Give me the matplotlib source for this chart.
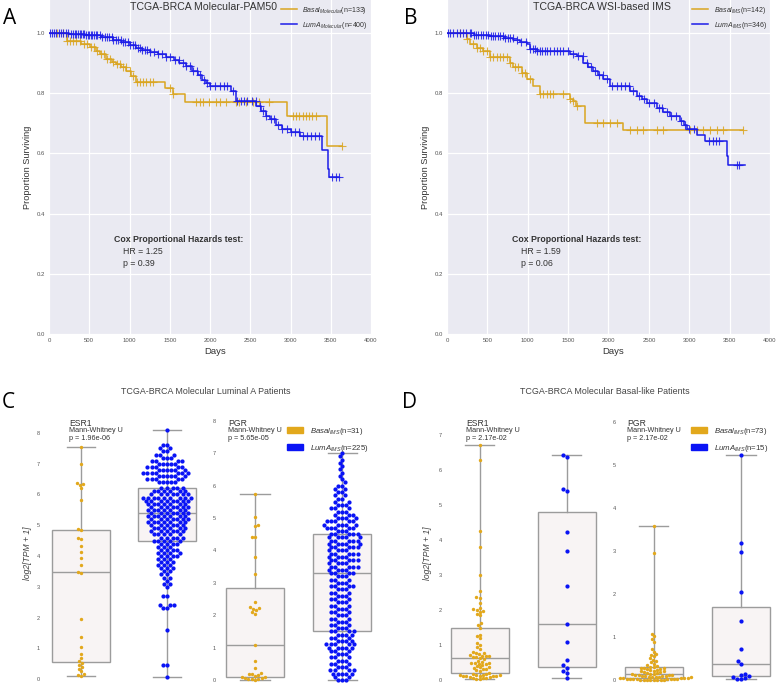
import numpy as np
import matplotlib
matplotlib.use('Agg')
import matplotlib.pyplot as plt
from matplotlib.patches import Patch

plt.rcParams['font.family'] = ['Liberation Sans', 'DejaVu Sans']
plt.rcParams['mathtext.fontset'] = 'custom'
plt.rcParams['mathtext.it'] = 'Liberation Sans:italic'
plt.rcParams['mathtext.rm'] = 'Liberation Sans'

W, H = 778, 684
GOLD = '#daa520'
BLUE = '#1c1ce8'
SW_GOLD = '#e2a81c'
SW_BLUE = '#0a14f5'
BOX_FACE = '#f8f4f4'
BOX_EDGE = '#9c9c9c'

# ---------------- Kaplan-Meier data ----------------
# panel A: molecular PAM50
a_basal_t = [0, 219, 400, 508, 580, 631, 714, 780, 838, 900, 962, 1020, 1085, 1436, 1537, 1684, 2959, 3453]
a_basal_s = [1.0, 0.975, 0.965, 0.953, 0.94, 0.93, 0.913, 0.905, 0.897, 0.886, 0.874, 0.858, 0.836,
             0.819, 0.797, 0.771, 0.724, 0.624]
a_basal_end = 3640
a_basal_cens = [95, 177, 220, 260, 300, 340, 384, 430, 470, 520, 560, 600, 640, 680, 720, 760, 800, 840,
                880, 920, 960, 1000, 1040, 1090, 1130, 1170, 1210, 1250, 1292, 1500, 1539, 1828, 1870, 1910,
                1993, 2070, 2130, 2200, 2320, 2365, 2450, 2530, 2612, 2736, 3025, 3065, 3107, 3150, 3190,
                3230, 3273, 3314, 3644]

a_luma_t = [0, 250, 450, 650, 800, 900, 1000, 1080, 1150, 1250, 1350, 1450, 1550, 1620, 1700, 1780, 1850,
            1900, 1950, 2000, 2262, 2323, 2571, 2633, 2700, 2750, 2818, 2900, 3000, 3120, 3395, 3460, 3480]
a_luma_s = [1.0, 0.997, 0.993, 0.988, 0.978, 0.97, 0.962, 0.952, 0.944, 0.937, 0.93, 0.922, 0.912, 0.902,
            0.89, 0.875, 0.86, 0.845, 0.835, 0.824, 0.808, 0.774, 0.758, 0.741, 0.726, 0.713, 0.695, 0.68,
            0.672, 0.658, 0.613, 0.547, 0.521]
a_luma_end = 3600
a_luma_cens = [15, 40, 60, 90, 120, 150, 180, 210, 240, 270, 300, 320, 340, 360, 380, 400, 420, 440, 460,
               480, 500, 520, 540, 560, 580, 600, 630, 660, 690, 720, 750, 780, 800, 830, 860, 890, 920, 950,
               980, 1010, 1040, 1070, 1100, 1130, 1160, 1190, 1220, 1260, 1300, 1350, 1400, 1450, 1500, 1560,
               1610, 1660, 1700, 1750, 1790, 1840, 1880, 1920, 1960, 2000, 2060, 2120, 2170, 2210, 2290, 2340,
               2380, 2420, 2460, 2520, 2570, 2620, 2660, 2700, 2760, 2800, 2850, 2900, 2960, 3010, 3060, 3110,
               3160, 3200, 3250, 3300, 3350, 3510, 3560, 3600]

# panel B: WSI-based IMS
b_basal_t = [0, 244, 285, 368, 450, 532, 780, 820, 925, 986, 1069, 1152, 1523, 1564, 1600, 1709, 2184]
b_basal_s = [1.0, 0.98, 0.963, 0.952, 0.94, 0.919, 0.902, 0.886, 0.869, 0.847, 0.824, 0.797, 0.78, 0.774,
             0.758, 0.70, 0.678]
b_basal_end = 3668
b_basal_cens = [161, 244, 326, 368, 409, 450, 491, 532, 574, 615, 656, 698, 739, 780, 842, 883, 925, 966,
                1028, 1152, 1193, 1234, 1276, 1317, 1441, 1523, 1564, 1605, 1853, 1936, 2018, 2101, 2266,
                2349, 2431, 2597, 2679, 3010, 3092, 3175, 3257, 3340, 3422, 3668]

b_luma_t = [0, 330, 532, 700, 821, 900, 986, 1028, 1110, 1523, 1605, 1688, 1750, 1812, 1870, 1936, 2020,
            2266, 2349, 2410, 2473, 2597, 2680, 2762, 2886, 2930, 2969, 3092, 3196, 3463, 3479]
b_luma_s = [1.0, 0.995, 0.99, 0.985, 0.978, 0.972, 0.963, 0.947, 0.941, 0.932, 0.924, 0.902, 0.888, 0.874,
            0.86, 0.847, 0.824, 0.808, 0.791, 0.78, 0.769, 0.752, 0.738, 0.724, 0.708, 0.695, 0.68, 0.663,
            0.641, 0.591, 0.563]
b_luma_end = 3689
b_luma_cens = [10, 40, 80, 120, 160, 200, 240, 280, 300, 330, 360, 390, 420, 450, 480, 510, 540, 570, 600,
               630, 660, 690, 720, 750, 780, 820, 870, 920, 980, 1030, 1060, 1090, 1120, 1150, 1180, 1210,
               1240, 1280, 1320, 1360, 1400, 1440, 1500, 1560, 1620, 1680, 1730, 1780, 1830, 1880, 1930,
               1980, 2040, 2100, 2150, 2200, 2250, 2300, 2380, 2440, 2500, 2560, 2620, 2660, 2720, 2780,
               2830, 2900, 2950, 3000, 3060, 3250, 3290, 3330, 3370, 3590, 3620]

# ---------------- expression data (log2[TPM+1]) ----------------
# C: molecular Luminal A patients
c_esr1_basal = [7.55, 7.0, 6.38, 6.35, 6.3, 6.2, 5.82, 4.87, 4.85, 4.6, 4.55, 4.32, 4.12, 3.93, 3.72, 3.47,
                3.44, 1.95, 1.35, 1.03, 0.82, 0.68, 0.58, 0.52, 0.45, 0.38, 0.33, 0.25, 0.15, 0.12, 0.1]
c_esr1_luma_lvl = [8.1, 7.6, 7.5, 7.4, 7.3, 7.2, 7.1, 7.0, 6.9, 6.8, 6.7, 6.6, 6.5, 6.4,
                   6.2, 6.1, 6.0, 5.9, 5.8, 5.7, 5.6, 5.5, 5.4, 5.3, 5.2, 5.1, 5.0, 4.9, 4.8, 4.7, 4.6,
                   4.5, 4.4, 4.3, 4.2, 4.1, 4.0, 3.9, 3.8, 3.7, 3.6, 3.5, 3.4, 3.3, 3.2, 3.1, 3.0, 2.7, 2.4,
                   2.3, 1.6, 0.45, 0.05]
c_esr1_luma_cnt = [1, 2, 2, 2, 3, 3, 4, 5, 5, 6, 7, 6, 5, 5,
                   5, 6, 7, 9, 8, 7, 7, 7, 7, 7, 7, 7, 6, 6, 6, 5, 5,
                   5, 4, 3, 4, 4, 4, 3, 3, 3, 3, 2, 2, 2, 1, 2, 1, 2, 3, 2, 1, 2, 1]
c_pgr_basal = [5.73, 5.02, 4.78, 4.75, 4.42, 4.4, 3.81, 3.27, 2.4, 2.25, 2.22, 2.2, 2.15, 2.1, 2.05, 1.08,
               0.58, 0.36, 0.22, 0.2, 0.18, 0.15, 0.12, 0.1, 0.08, 0.06, 0.05, 0.04, 0.03, 0.02, 0.01]
c_pgr_luma_lvl = [7.0, 6.9, 6.8, 6.7, 6.6, 6.5, 6.4, 6.3, 6.2, 6.1, 6.0, 5.9, 5.8, 5.7, 5.6, 5.5, 5.4, 5.3,
                  5.2, 5.1, 5.0, 4.9, 4.8, 4.7, 4.6, 4.5, 4.4, 4.3, 4.2, 4.1, 4.0, 3.9, 3.8, 3.7, 3.6, 3.5,
                  3.4, 3.3, 3.2, 3.1, 3.0, 2.9, 2.8, 2.7, 2.6, 2.5, 2.4, 2.3, 2.2, 2.1, 2.0, 1.9, 1.8, 1.7,
                  1.6, 1.5, 1.4, 1.3, 1.2, 1.1, 1.0, 0.9, 0.8, 0.7, 0.6, 0.5, 0.4, 0.3, 0.2, 0.1, 0.0]
c_pgr_luma_cnt = [1, 1, 1, 1, 1, 1, 1, 1, 1, 1, 2, 2, 2, 2, 2, 2, 3, 3,
                  3, 3, 4, 5, 5, 5, 3, 5, 5, 5, 5, 5, 4, 5, 4, 5, 4, 5,
                  4, 4, 3, 3, 3, 4, 3, 3, 3, 3, 3, 3, 3, 3, 3, 3, 3, 3,
                  3, 4, 4, 3, 4, 5, 5, 3, 3, 3, 3, 3, 3, 4, 5, 2, 3]

# D: molecular Basal-like patients
d_esr1_basal = [6.71, 6.3, 4.25, 3.8, 3.0, 2.55, 2.38, 2.35, 2.2, 2.05, 2.02, 2.0, 1.98, 1.95, 1.9, 1.85,
                1.62, 1.58, 1.5, 1.3, 1.25, 1.2, 1.05, 1.0, 0.95, 0.9, 0.8, 0.78, 0.76, 0.74, 0.72, 0.7,
                0.7, 0.68, 0.66, 0.65, 0.64, 0.6, 0.55, 0.52, 0.5, 0.5, 0.48, 0.46, 0.45, 0.42, 0.4, 0.38,
                0.36, 0.34, 0.32, 0.3, 0.28, 0.25, 0.21, 0.18, 0.16, 0.15, 0.15, 0.14, 0.13, 0.12, 0.12,
                0.11, 0.1, 0.1, 0.09, 0.08, 0.07, 0.06, 0.05, 0.04, 0.02]
d_esr1_luma = [6.42, 6.38, 5.45, 5.4, 4.22, 3.7, 2.68, 1.6, 1.1, 0.58, 0.42, 0.35, 0.25, 0.2, 0.05]
d_pgr_basal = [3.58, 2.95, 1.08, 1.02, 0.95, 0.88, 0.72, 0.65, 0.6, 0.58, 0.55, 0.5, 0.47, 0.44, 0.41,
               0.38, 0.35, 0.33, 0.31, 0.3, 0.29, 0.28, 0.27, 0.26, 0.25, 0.24, 0.23, 0.22, 0.21, 0.2,
               0.19, 0.18, 0.17, 0.16, 0.15, 0.14, 0.13, 0.12, 0.12, 0.11, 0.11, 0.1, 0.1, 0.09, 0.09,
               0.08, 0.08, 0.07, 0.07, 0.06, 0.06, 0.05, 0.05, 0.05, 0.04, 0.04, 0.04, 0.03, 0.03, 0.03,
               0.03, 0.02, 0.02, 0.02, 0.02, 0.01, 0.01, 0.01, 0.01, 0.0, 0.0, 0.0, 0.0]
d_pgr_luma = [5.23, 3.19, 2.98, 2.04, 1.37, 0.72, 0.45, 0.38, 0.15, 0.12, 0.1, 0.08, 0.05, 0.03, 0.02]

fig = plt.figure(figsize=(W / 100, H / 100), dpi=100)


def pax(l, t, r, b):
    return fig.add_axes([l / W, 1 - b / H, (r - l) / W, (b - t) / H])


def ftext(x, y, s, **kw):
    kw.setdefault('va', 'center')
    fig.text(x / W, 1 - y / H, s, **kw)


def km(ax, t, s, end, cens, color, label):
    t = np.asarray(t, float)
    s = np.asarray(s, float)
    ax.step(np.append(t, end), np.append(s, s[-1]), where='post', color=color, lw=1.1, label=label)
    c = np.asarray(cens, float)
    idx = np.searchsorted(t, c, side='right') - 1
    ax.plot(c, s[idx], ls='none', marker='+', ms=5.5, mew=0.8, color=color, alpha=0.85)


def km_panel(ax, curves, title, labels, hr, p, left_px):
    ax.set_facecolor('#eaeaf2')
    for sp in ax.spines.values():
        sp.set_visible(False)
    ax.grid(True, color='white', lw=0.9)
    ax.set_axisbelow(True)
    for (t, s, e, c, col), lab in zip(curves, labels):
        km(ax, t, s, e, c, col, lab)
    ax.set_xlim(0, 4000)
    ax.set_ylim(0, 1.11)
    ax.set_xticks(range(0, 4001, 500))
    ax.set_yticks([0.0, 0.2, 0.4, 0.6, 0.8, 1.0])
    ax.tick_params(length=0, labelsize=4.3, labelcolor='#555555', pad=3)
    ax.legend(loc='upper right', bbox_to_anchor=(0.995, 0.99), frameon=False, fontsize=5,
              handlelength=2.3, labelspacing=0.55, borderaxespad=0, borderpad=0.2, labelcolor='#333333')
    ftext(left_px + 155, 7, title, ha='center', fontsize=7.6, color='#333333')
    ftext(left_px - 22, 167, 'Proportion Surviving', rotation=90, ha='center', fontsize=6.6, color='#333333')
    ftext(left_px + 166, 352, 'Days', ha='center', fontsize=6.8, color='#333333')
    ftext(left_px + 65, 240, 'Cox Proportional Hazards test:', fontsize=6.3, fontweight='bold', color='#333333')
    ftext(left_px + 74, 252, 'HR = %s' % hr, fontsize=6.3, color='#333333')
    ftext(left_px + 74, 263, 'p = %s' % p, fontsize=6.3, color='#333333')


ax_a = pax(49, 0, 371, 334)
km_panel(ax_a,
         [(a_basal_t, a_basal_s, a_basal_end, a_basal_cens, GOLD),
          (a_luma_t, a_luma_s, a_luma_end, a_luma_cens, BLUE)],
         'TCGA-BRCA Molecular-PAM50',
         [r'$Basal_{Molecular}$(n=133)', r'$LumA_{Molecular}$(n=400)'], '1.25', '0.39', 49)

ax_b = pax(447, 0, 770, 334)
km_panel(ax_b,
         [(b_basal_t, b_basal_s, b_basal_end, b_basal_cens, GOLD),
          (b_luma_t, b_luma_s, b_luma_end, b_luma_cens, BLUE)],
         'TCGA-BRCA WSI-based IMS',
         [r'$Basal_{IMS}$(n=142)', r'$LumA_{IMS}$(n=346)'], '1.59', '0.06', 447)


def swarm(ax, pos, vals, color, d):
    vals = np.asarray(vals, float)
    xy = ax.transData.transform(np.column_stack([np.full(len(vals), pos), vals]))
    x0 = xy[0, 0]
    placed = []
    xs = np.zeros(len(vals))
    for i in np.argsort(vals, kind='stable'):
        y = xy[i, 1]
        near = [(qx, qy) for qx, qy in placed if abs(qy - y) < d]
        cands = [x0]
        for qx, qy in near:
            dx = np.sqrt(d * d - (qy - y) ** 2)
            cands += [qx - dx, qx + dx]
        cands.sort(key=lambda v: abs(v - x0))
        for cx in cands:
            if all((cx - qx) ** 2 + (y - qy) ** 2 >= d * d - 1e-6 for qx, qy in near):
                break
        xs[i] = cx
        placed.append((cx, y))
    pts = ax.transData.inverted().transform(np.column_stack([xs, xy[:, 1]]))
    ax.scatter(pts[:, 0], vals, s=(d * 0.72) ** 2, color=color, lw=0, zorder=3)


def box_panel(ax, g1, g2, xlim, ylim, yticks):
    ax.boxplot([g1, g2], positions=[0, 1], widths=0.67, whis=(0, 100), showfliers=False,
               patch_artist=True,
               boxprops=dict(facecolor=BOX_FACE, edgecolor=BOX_EDGE, lw=1.0),
               medianprops=dict(color=BOX_EDGE, lw=1.0),
               whiskerprops=dict(color=BOX_EDGE, lw=1.0),
               capprops=dict(color=BOX_EDGE, lw=1.0))
    ax.set_xlim(*xlim)
    ax.set_ylim(*ylim)
    ax.set_yticks(yticks)
    ax.set_xticks([])
    for sp in ax.spines.values():
        sp.set_visible(False)
    ax.tick_params(length=0, labelsize=4, labelcolor='#555555', pad=1.5)
    swarm(ax, 0, g1, SW_GOLD, 3.4)
    swarm(ax, 1, g2, SW_BLUE, 4.2)


def gene_text(x, gene, p):
    ftext(x, 423.5, gene, fontsize=6.2, color='#333333')
    ftext(x, 430.8, 'Mann-Whitney U', fontsize=5.2, color='#333333')
    ftext(x, 438.8, 'p = %s' % p, fontsize=5.2, color='#333333')


def box_legend(x, y, labels):
    handles = [Patch(color=SW_GOLD, label=labels[0]), Patch(color=SW_BLUE, label=labels[1])]
    fig.legend(handles=handles, loc='upper left', bbox_to_anchor=(x / W, 1 - y / H), frameon=False,
               fontsize=5.6, handlelength=2.0, handleheight=0.75, labelspacing=0.75, borderpad=0,
               borderaxespad=0, handletextpad=0.9, labelcolor='#333333')


c_esr1_luma = np.repeat(c_esr1_luma_lvl, c_esr1_luma_cnt)
c_pgr_luma = np.repeat(c_pgr_luma_lvl, c_pgr_luma_cnt)

ax_c1 = pax(42, 425, 205, 683)
box_panel(ax_c1, c_esr1_basal, c_esr1_luma, (-0.453, 1.442), (-0.13, 8.26), range(0, 9))
ax_c2 = pax(218, 415, 385, 683)
box_panel(ax_c2, c_pgr_basal, c_pgr_luma, (-0.425, 1.49), (-0.09, 8.18), range(0, 9))
ax_d1 = pax(444, 425, 605, 683)
box_panel(ax_d1, d_esr1_basal, d_esr1_luma, (-0.41, 1.44), (-0.086, 7.29), range(0, 8))
ax_d2 = pax(618, 418, 775, 683)
box_panel(ax_d2, d_pgr_basal, d_pgr_luma, (-0.41, 1.39), (-0.07, 6.09), range(0, 7))

ftext(206, 391, 'TCGA-BRCA Molecular Luminal A Patients', ha='center', fontsize=6.4, color='#444444')
ftext(605, 391, 'TCGA-BRCA Molecular Basal-like Patients', ha='center', fontsize=6.4, color='#444444')
ftext(28, 553, 'log2[TPM + 1]', rotation=90, ha='center', style='italic', fontsize=6.2, color='#444444')
ftext(427, 553, 'log2[TPM + 1]', rotation=90, ha='center', style='italic', fontsize=6.2, color='#444444')
gene_text(69, 'ESR1', '1.96e-06')
gene_text(228, 'PGR', '5.65e-05')
gene_text(466, 'ESR1', '2.17e-02')
gene_text(627, 'PGR', '2.17e-02')
box_legend(287, 426, [r'$Basal_{IMS}$(n=31)', r'$LumA_{IMS}$(n=225)'])
box_legend(691, 426, [r'$Basal_{IMS}$(n=73)', r'$LumA_{IMS}$(n=15)'])

for letter, x, y in [('A', 3, 18), ('B', 404, 18), ('C', 2, 403), ('D', 402, 403)]:
    ftext(x, y, letter, fontsize=15, color='black', family=['Open Sans', 'DejaVu Sans'])

fig.savefig('out.png', dpi=100)
